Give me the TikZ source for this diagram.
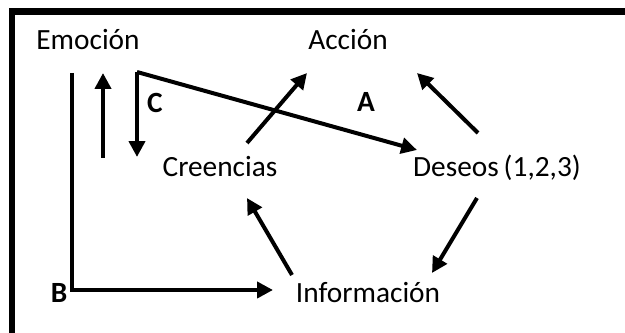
\documentclass[tikz,border=0pt]{standalone}
\usepackage{fontspec}
\setmainfont{Carlito}
\usepackage{tikz}
\usetikzlibrary{arrows.meta}

\tikzset{
  concepto/.style={inner sep=0pt,anchor=base,font=\fontsize{16.7}{20}\selectfont},
  letra/.style={concepto,font=\fontsize{16.7}{20}\selectfont\bfseries},
  flecha/.style={line width=0.08cm,-{Triangle[length=9pt,width=9pt]}},
  linea/.style={line width=0.08cm}
}

\begin{document}
\begin{tikzpicture}[x=0.02cm,y=-0.02cm]
\useasboundingbox (0,0) rectangle (625,333);

% marco
\draw[line width=0.13cm,line join=miter] (12,333)--(12,11.5)--(625,11.5);

\node[concepto] (emo) at (88,50) {Emoción};
\node[concepto] (acc) at (348,50) {Acción};
\node[concepto] (cre) at (220,177) {Creencias};
\node[concepto] (des) at (497,177) {Deseos\,(1,2,3)};
\node[concepto] (inf) at (368,303) {Información};

\node[letra] (A) at (366,112) {A};
\node[letra] (B) at (59,303) {B};
\node[letra] (C) at (155,113) {C};

\coordinate (esq) at ([shift={(49,22)}]emo.base);

\draw[flecha] ([shift={(-16,23)}]emo.base) |- ([shift={(-95,-13)}]inf.base);
\draw[flecha] ([shift={(15,108)}]emo.base) -- ([shift={(15,23)}]emo.base);
\draw[flecha] (esq) -- ([shift={(49,107)}]emo.base);
\draw[flecha] (esq) -- ([shift={(-80,-27)}]des.base);

\draw[flecha] ([shift={(27,-34)}]cre.base) -- ([shift={(-41,23)}]acc.base);
\draw[flecha] ([shift={(-19,-44)}]des.base) -- ([shift={(69,23)}]acc.base);
\draw[flecha] ([shift={(-20,21)}]des.base) -- ([shift={(64,-30)}]inf.base);
\draw[flecha] ([shift={(-76,-28)}]inf.base) -- ([shift={(27,21)}]cre.base);

\end{tikzpicture}
\end{document}
